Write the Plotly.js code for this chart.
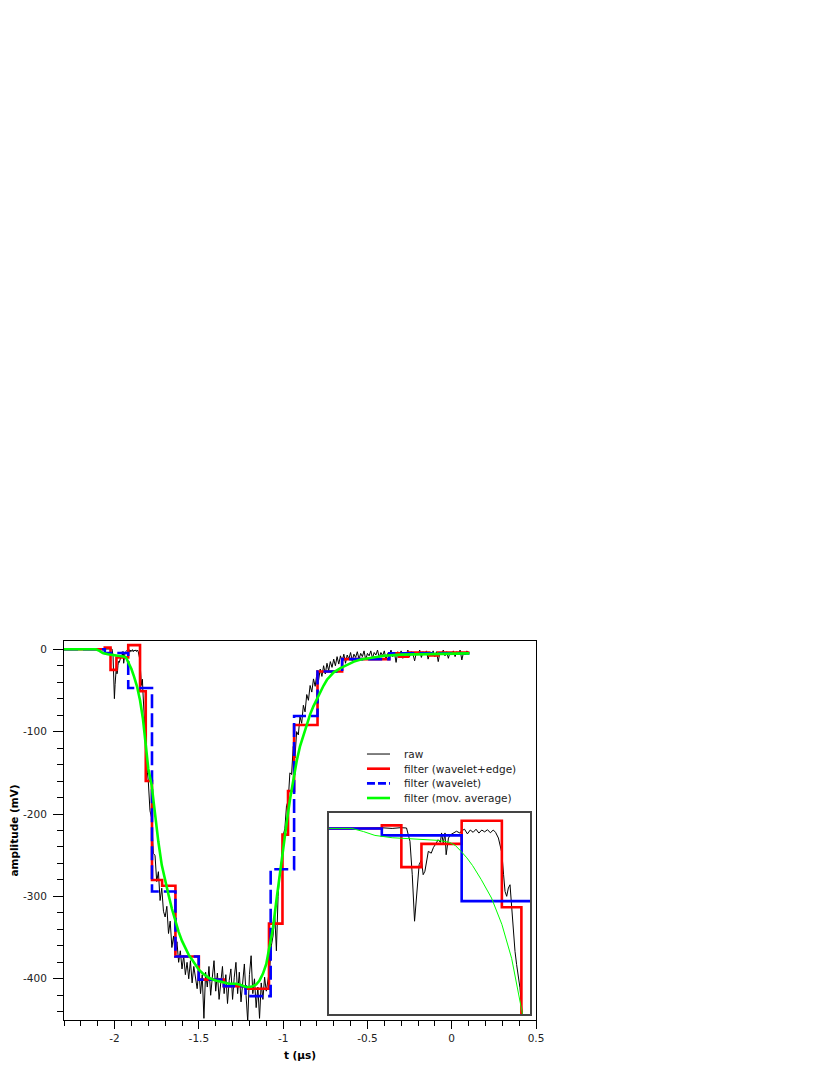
<!DOCTYPE html>
<html>
<head>
<meta charset="utf-8">
<script src="https://cdn.plot.ly/plotly-3.0.1.min.js"></script>
<style>
  html, body { margin: 0; padding: 0; background: #fff; }
  #plot { width: 830px; height: 1075px; }
</style>
</head>
<body>
<div id="plot"></div>
<script>
// raw signal (t in us, amplitude in mV)
var rawT = [
  -2.300, -2.200, -2.100, -2.060, -2.040, -2.025, -2.015, -2.009, -2.005, -2.001,
  -1.997, -1.993, -1.989, -1.986, -1.983, -1.980, -1.977, -1.972, -1.968, -1.964,
  -1.960, -1.956, -1.954, -1.951, -1.948, -1.946, -1.942, -1.938, -1.934, -1.928,
  -1.922, -1.919, -1.914, -1.909, -1.904, -1.899, -1.894, -1.889, -1.884, -1.879,
  -1.874, -1.869, -1.864, -1.860, -1.855, -1.852, -1.849, -1.846, -1.8435, -1.8406,
  -1.8377, -1.8348, -1.8319, -1.8291, -1.8261, -1.8233, -1.8204, -1.8175, -1.8145, -1.810,
  -1.805,
  -1.80, -1.79, -1.78, -1.77, -1.76, -1.75, -1.74, -1.73, -1.72, -1.71,
  -1.70, -1.69, -1.68, -1.67, -1.66, -1.65, -1.64, -1.63, -1.62, -1.61,
  -1.60, -1.59, -1.58, -1.57, -1.56, -1.55, -1.54, -1.53, -1.52, -1.51,
  -1.50, -1.49, -1.48, -1.47, -1.46, -1.45, -1.44, -1.43, -1.42, -1.41,
  -1.40, -1.39, -1.38, -1.37, -1.36, -1.35, -1.34, -1.33, -1.32, -1.31,
  -1.30, -1.29, -1.28, -1.27, -1.26, -1.25, -1.24, -1.23, -1.22, -1.21,
  -1.20, -1.19, -1.18, -1.17, -1.16, -1.15, -1.14, -1.13, -1.12, -1.11,
  -1.10, -1.09, -1.08, -1.07, -1.06, -1.05, -1.04, -1.03, -1.02, -1.01,
  -1.00, -0.99, -0.98, -0.97, -0.96, -0.95, -0.94, -0.93, -0.92, -0.91,
  -0.90, -0.89, -0.88, -0.87, -0.86, -0.85, -0.84, -0.83, -0.82, -0.81,
  -0.80, -0.79, -0.78, -0.77, -0.76, -0.75, -0.74, -0.73, -0.72, -0.71,
  -0.70, -0.69, -0.68, -0.67, -0.66, -0.65, -0.64, -0.63, -0.62, -0.61,
  -0.60, -0.59, -0.58, -0.57, -0.56, -0.55, -0.54, -0.53, -0.52, -0.51,
  -0.50, -0.49, -0.48, -0.47, -0.46, -0.45, -0.44, -0.43, -0.42, -0.41,
  -0.40, -0.39, -0.38, -0.37, -0.36, -0.35, -0.34, -0.33, -0.32, -0.31,
  -0.30, -0.29, -0.28, -0.27, -0.26, -0.25, -0.24, -0.23, -0.22, -0.21,
  -0.20, -0.19, -0.18, -0.17, -0.16, -0.15, -0.14, -0.13, -0.12, -0.11,
  -0.10, -0.09, -0.08, -0.07, -0.06, -0.05, -0.04, -0.03, -0.02, -0.01,
  0.00, 0.01, 0.02, 0.03, 0.04, 0.05, 0.06, 0.07, 0.08, 0.09,
  0.10
]
var rawV = [
  0, 0, 0, 0.5, 0, 0.5, 0.3, -8.3, -29.9, -60,
  -42.8, -23.4, -20.2, -29.9, -27.7, -20, -14.8, -16, -12.2, -10,
  -7.3, -9, -2.9, -9.4, -2.9, -17, -6.2, -4, -2.9, -1.8,
  -3, -1.5, -0.5, -3.5, -1, -2.5, -0.5, -3, -1, -2.2,
  -0.8, -2.8, -1, -2.5, -6.2, -10.5, -15.9, -29.9, -40.7, -43.9,
  -38.5, -36.4, -51.4, -64.4, -79.5, -88, -96.7, -103, -116, -135,
  -150,
  -160, -196, -205, -248, -250, -282, -270, -305, -290, -318,
  -325, -312, -345, -330, -362, -348, -371, -355, -380, -366,
  -388, -372, -395, -380, -400, -378, -405, -385, -398, -412,
  -388, -418, -395, -448, -392, -410, -385, -420, -398, -378,
  -415, -393, -425, -400, -385, -418, -395, -430, -402, -388,
  -425, -398, -380, -418, -392, -428, -405, -382, -420, -452,
  -395, -372, -418, -400, -435, -410, -448, -405, -425, -398,
  -415, -400, -388, -360, -348, -322, -366, -300, -270, -258,
  -226, -218, -190, -184, -150, -152, -118, -132, -100, -104,
  -82, -90, -68, -76, -55, -62, -44, -52, -36, -45,
  -30, -38, -24, -33, -20, -30, -17, -26, -15, -22,
  -12, -20, -9, -18, -8, -15, -6, -17, -7, -12,
  -4, -14, -6, -10, -3, -12, -5, -9, -2, -13,
  -5, -8, -2, -11, -4, -7, -1, -10, -4, -8,
  -2, -12, -5, -7, -1, -9, -4, -16, -3, -8,
  -2, -11, -5, -7, -1, -9, -3, -6, -14, -4,
  -7, -1, -10, -3, -6, -2, -12, -4, -7, -2,
  -9, -3, -15, -4, -6, -1, -8, -3, -11, -4,
  -6, -2, -9, -3, -5, -1, -13, -4, -7, -2,
  -5
]

// filter (wavelet+edge): step edges and levels
var edgeT = [-2.3, -2.058, -2.024, -1.989, -1.919, -1.849, -1.815, -1.778, -1.718, -1.639,
  -1.5, -1.352, -1.223, -1.084, -1.004, -0.971, -0.935, -0.796, -0.65, -0.371,
  -0.312, -0.258, -0.133, -0.08, 0.105]
var edgeV = [0, 2, -25, -10, 5, -51, -160, -280, -287, -373,
  -401, -409, -412, -333, -225, -172, -92, -27, -12, -5,
  -9, -4, -7.6, -4, -4]

// filter (wavelet)
var waveT = [-2.3, -2.058, -1.919, -1.778, -1.639, -1.501, -1.352, -1.223, -1.074, -0.935,
  -0.796, -0.65, -0.37, 0.105]
var waveV = [0, -4.5, -47, -294, -373, -401, -409, -421, -267, -81,
  -27, -12, -5, -5]

// filter (mov. average)
var avgT = [-2.30, -2.20, -2.11, -2.09, -2.07, -2.04, -2.00, -1.96, -1.94, -1.93,
  -1.92, -1.91, -1.90, -1.885, -1.867, -1.849, -1.832, -1.815, -1.80, -1.78,
  -1.76, -1.74, -1.72, -1.70, -1.68, -1.66, -1.64, -1.62, -1.60, -1.58,
  -1.56, -1.54, -1.52, -1.50, -1.48, -1.46, -1.44, -1.40, -1.36, -1.32,
  -1.30, -1.28, -1.26, -1.24, -1.22, -1.20, -1.18, -1.16, -1.14, -1.12,
  -1.10, -1.08, -1.06, -1.04, -1.02, -1.00, -0.98, -0.96, -0.94, -0.92,
  -0.90, -0.88, -0.86, -0.84, -0.82, -0.80, -0.78, -0.76, -0.74, -0.72,
  -0.70, -0.66, -0.62, -0.58, -0.54, -0.50, -0.45, -0.40, -0.30, -0.20,
  -0.10, 0.00, 0.105]
var avgV = [0, 0, 0, -2, -4.5, -6, -7, -7.7, -9, -11,
  -14.8, -19, -24, -33, -45, -62, -84, -116, -145, -165,
  -200, -234, -262, -282, -298, -315, -330, -343, -354, -363,
  -371, -377, -383, -389, -393, -396, -399, -402, -404, -406,
  -406, -406, -407, -409, -410, -410, -409, -407, -402, -394,
  -382, -360, -338, -305, -272, -240, -212, -183, -157, -136,
  -118, -104, -90, -79, -69, -60, -52, -44, -37, -32,
  -28, -23, -19, -15, -12.5, -11, -9, -7.8, -6.5, -6,
  -5.8, -5.4, -5]

var seriesNames = ['raw', 'filter (wavelet+edge)', 'filter (wavelet)', 'filter (mov. average)']

var xTickVals = [-2, -1.5, -1, -0.5, 0, 0.5]
var xTickText = ['-2', '-1.5', '-1', '-0.5', '0', '0.5']
var yTickVals = [0, -100, -200, -300, -400]
var yTickText = ['0', '-100', '-200', '-300', '-400']

// line styles per series (main plot)
var styles = [
  {color: '#000000', width: 1},
  {color: '#ff0000', width: 2.6, shape: 'hv'},
  {color: '#0000ff', width: 2.6, shape: 'hv', dash: '14px,5px'},
  {color: '#00ff00', width: 2.6}
]

var traces = [
  // main plot
  {x: rawT, y: rawV, name: seriesNames[0], type: 'scatter', mode: 'lines', line: styles[0]},
  {x: edgeT, y: edgeV, name: seriesNames[1], type: 'scatter', mode: 'lines', line: styles[1]},
  {x: waveT, y: waveV, name: seriesNames[2], type: 'scatter', mode: 'lines', line: styles[2]},
  {x: avgT, y: avgV, name: seriesNames[3], type: 'scatter', mode: 'lines', line: styles[3]},
  // inset
  {x: rawT, y: rawV, xaxis: 'x2', yaxis: 'y2', type: 'scatter', mode: 'lines',
   line: {color: '#000000', width: 1}},
  {x: edgeT, y: edgeV, xaxis: 'x2', yaxis: 'y2', type: 'scatter', mode: 'lines',
   line: {color: '#ff0000', width: 2.6, shape: 'hv'}},
  {x: waveT, y: waveV, xaxis: 'x2', yaxis: 'y2', type: 'scatter', mode: 'lines',
   line: {color: '#0000ff', width: 2.6, shape: 'hv'}},
  {x: avgT, y: avgV, xaxis: 'x2', yaxis: 'y2', type: 'scatter', mode: 'lines',
   line: {color: '#00ff00', width: 1}}
]

// hand-built legend (tighter rows than plotly's own legend)
var legX0 = 0.6419, legX1 = 0.6907, legTextX = 0.7182
var legTop = 0.7018, legStep = 0.0387
var shapes = []
var annotations = []
seriesNames.forEach(function (name, i) {
  var yy = legTop - i * legStep
  shapes.push({type: 'line', xref: 'paper', yref: 'paper', x0: legX0, x1: legX1, y0: yy, y1: yy,
    line: {color: styles[i].color, width: styles[i].width, dash: i === 2 ? '8px,3px' : 'solid'}})
  annotations.push({xref: 'paper', yref: 'paper', x: legTextX, y: yy, text: name, showarrow: false,
    xanchor: 'left', yanchor: 'middle', borderpad: 0,
    font: {family: 'DejaVu Sans', size: 10.5, color: '#222'}})
})

var tickFont = {family: 'DejaVu Sans', size: 10.5, color: '#222'}

var layout = {
  width: 830,
  height: 1075,
  margin: {l: 64, r: 294, t: 641, b: 55},
  paper_bgcolor: '#ffffff',
  plot_bgcolor: '#ffffff',
  font: {family: 'DejaVu Sans', size: 10.5, color: '#222'},
  showlegend: false,
  shapes: shapes,
  annotations: annotations,
  xaxis: {
    range: [-2.3, 0.5],
    tickmode: 'array', tickvals: xTickVals, ticktext: xTickText,
    ticks: 'outside', ticklen: 8, tickwidth: 1, tickcolor: '#000',
    tickfont: tickFont,
    minor: {tickmode: 'linear', tick0: 0, dtick: 0.1, ticks: 'outside', ticklen: 5, tickwidth: 1, tickcolor: '#000', showgrid: false},
    showline: true, linecolor: '#000', linewidth: 1, mirror: true,
    showgrid: false, zeroline: false,
    title: {text: '<b>t (µs)</b>', font: {family: 'DejaVu Sans', size: 10.5, color: '#000'}, standoff: 9}
  },
  yaxis: {
    range: [-450, 10],
    tickmode: 'array', tickvals: yTickVals, ticktext: yTickText,
    ticks: 'outside', ticklen: 10, tickwidth: 1, tickcolor: '#000',
    tickfont: tickFont,
    ticklabelstandoff: 4,
    minor: {tickmode: 'linear', tick0: 0, dtick: 20, ticks: 'outside', ticklen: 6, tickwidth: 1, tickcolor: '#000', showgrid: false},
    showline: true, linecolor: '#000', linewidth: 1, mirror: true,
    showgrid: false, zeroline: false,
    title: {text: '<b>amplitude (mV)</b>', font: {family: 'DejaVu Sans', size: 10.5, color: '#000'}, standoff: 2}
  },
  xaxis2: {
    domain: [0.5614, 0.9873], anchor: 'y2',
    range: [-2.15, -1.8],
    showticklabels: false, ticks: '',
    showline: true, linecolor: '#444', linewidth: 1.5, mirror: true,
    showgrid: false, zeroline: false
  },
  yaxis2: {
    domain: [0.0158, 0.5462], anchor: 'x2',
    range: [-120, 10],
    showticklabels: false, ticks: '',
    showline: true, linecolor: '#444', linewidth: 1.5, mirror: true,
    showgrid: false, zeroline: false
  }
}

Plotly.newPlot('plot', traces, layout, {staticPlot: true, displayModeBar: false})
</script>
</body>
</html>
